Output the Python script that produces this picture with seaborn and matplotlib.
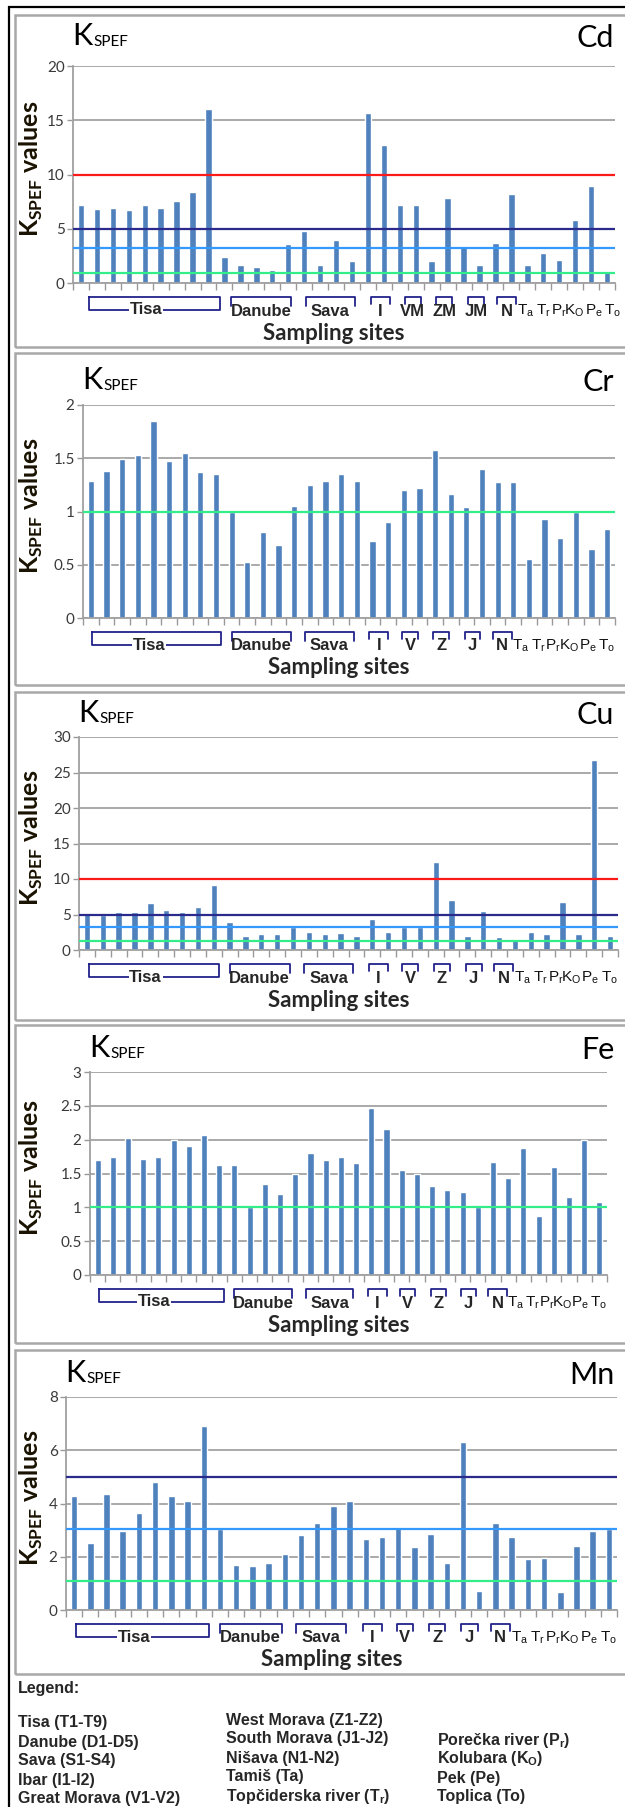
import numpy as np
import pandas as pd
import seaborn as sns
import matplotlib.pyplot as plt
from matplotlib.patches import Rectangle
from matplotlib.transforms import blended_transform_factory

# sampling sites (x categories)
sites = ["T1", "T2", "T3", "T4", "T5", "T6", "T7", "T8", "T9",
         "D1", "D2", "D3", "D4", "D5", "S1", "S2", "S3", "S4",
         "I1", "I2", "V1", "V2", "Z1", "Z2", "J1", "J2", "N1", "N2",
         "Ta", "Tr", "Pr", "Ko", "Pe", "To"]

# K_SPEF values per element
cd = [7.2, 6.8, 6.9, 6.7, 7.2, 6.9, 7.6, 8.4, 16.0, 2.4, 1.7, 1.5, 1.2, 3.6, 4.8, 1.7, 4.0, 2.0,
      15.7, 12.7, 7.2, 7.2, 2.0, 7.8, 3.3, 1.7, 3.7, 8.2, 1.7, 2.8, 2.1, 5.8, 8.9, 1.1]
cr = [1.29, 1.38, 1.49, 1.53, 1.85, 1.47, 1.55, 1.37, 1.35, 1.0, 0.53, 0.81, 0.69, 1.05, 1.25, 1.29, 1.35, 1.29,
      0.72, 0.9, 1.2, 1.22, 1.58, 1.16, 1.04, 1.4, 1.28, 1.28, 0.55, 0.93, 0.75, 1.0, 0.65, 0.84]
cu = [5.2, 5.0, 5.4, 5.4, 6.6, 5.7, 5.3, 6.1, 9.1, 3.9, 2.0, 2.2, 2.2, 3.3, 2.6, 2.2, 2.4, 2.0,
      4.3, 2.6, 3.2, 3.2, 12.4, 7.0, 2.0, 5.5, 1.8, 1.6, 2.6, 2.2, 6.8, 2.2, 26.8, 2.0]
fe = [1.70, 1.75, 2.03, 1.72, 1.75, 2.0, 1.91, 2.07, 1.63, 1.63, 1.0, 1.34, 1.2, 1.49, 1.81, 1.70, 1.75, 1.65,
      2.47, 2.16, 1.55, 1.50, 1.31, 1.26, 1.22, 1.0, 1.67, 1.43, 1.88, 0.87, 1.6, 1.15, 2.0, 1.08]
mn = [4.3, 2.5, 4.35, 2.95, 3.65, 4.8, 4.3, 4.1, 6.9, 3.05, 1.7, 1.65, 1.75, 2.1, 2.8, 3.25, 3.9, 4.1,
      2.65, 2.75, 3.1, 2.35, 2.85, 1.75, 6.3, 0.72, 3.25, 2.75, 1.9, 1.95, 0.68, 2.4, 2.95, 3.05]

# threshold lines per element
cd_lines = [10, 5, 3.2, 0.9]
cr_lines = [1]
cu_lines = [10, 5, 3.3, 1.3]
fe_lines = [1]
mn_lines = [5, 3.05, 1.1]

groups = ["Tisa", "Danube", "Sava", "I", "V", "Z", "J", "N"]
groups_cd = ["Tisa", "Danube", "Sava", "I", "VM", "ZM", "JM", "N"]
singles = [r"T$_\mathrm{a}$", r"T$_\mathrm{r}$", r"P$_\mathrm{r}$", r"K$_\mathrm{O}$", r"P$_\mathrm{e}$", r"T$_\mathrm{o}$"]

legend_col1 = ["Tisa (T1-T9)", "Danube (D1-D5)", "Sava (S1-S4)", "Ibar (I1-I2)", "Great Morava (V1-V2)"]
legend_col2 = ["West Morava (Z1-Z2)", "South Morava (J1-J2)", "Nišava (N1-N2)", "Tamiš (Ta)",
               r"Topčiderska river (T$_\mathbf{r}$)"]
legend_col3 = [r"Porečka river (P$_\mathbf{r}$)", r"Kolubara (K$_\mathbf{O}$)", "Pek (Pe)", "Toplica (To)"]

sns.set_style("white")
plt.rcParams["font.family"] = ["Lato", "DejaVu Sans"]
plt.rcParams["mathtext.fontset"] = "custom"
plt.rcParams["mathtext.rm"] = "Liberation Sans"
plt.rcParams["mathtext.bf"] = "Liberation Sans:bold"
plt.rcParams["mathtext.sf"] = "Lato:bold"

W, H = 625, 1807
BAR = "#4f81bd"
NAVY = "#22228a"


def fx(x):
    return x / W


def fy(y):
    return 1 - y / H


def ref_color(v):
    if v >= 10:
        return "#ff1a1a"
    if v >= 5:
        return "#2a2a8c"
    if v > 2:
        return "#3399ff"
    return "#33ee88"


# name, values, lines, panel top/bottom, axis left/right, axis top/zero, ymax, step, title y, group labels, shift
panels = [
    ("Cd", cd, cd_lines, 15, 347, 73, 615, 66, 283, 20, 5, 36, groups_cd, 0.4),
    ("Cr", cr, cr_lines, 353, 685, 83, 615, 405, 618, 2, 0.5, 380, groups, 0.0),
    ("Cu", cu, cu_lines, 692, 1020, 79, 618, 737, 950, 30, 5, 713, groups, 0.0),
    ("Fe", fe, fe_lines, 1025, 1343, 90, 607, 1072, 1275, 3, 0.5, 1048, groups, 0.0),
    ("Mn", mn, mn_lines, 1350, 1674, 66, 617, 1397, 1610, 8, 2, 1373, groups, 0.0),
]

group_lo = [0.1, 9.0, 13.7, 17.8, 19.9, 21.9, 23.9, 25.7]
group_hi = [8.3, 12.8, 16.8, 19.0, 20.9, 22.9, 24.9, 26.9]
single_x = [27.5, 28.6, 29.55, 30.55, 31.75, 32.95]

fig = plt.figure(figsize=(W / 100, H / 100), dpi=100)

# outer frame
fig.add_artist(Rectangle((fx(9), fy(1830)), fx(700), (1830 - 7) / H, transform=fig.transFigure,
                         fill=False, edgecolor="black", lw=1.6))

for (name, vals, lines, ptop, pbot, axl, axr, axt, axz, ymax, step, ty, glabels, shift) in panels:
    fig.add_artist(Rectangle((fx(15), fy(pbot)), fx(700), (pbot - ptop) / H, transform=fig.transFigure,
                             fill=False, edgecolor="#a8a8a8", lw=1.8))
    ax = fig.add_axes([fx(axl), fy(axz), fx(axr) - fx(axl), (axz - axt) / H])
    df = pd.DataFrame({"site": sites, "value": vals})
    sns.barplot(data=df, x="site", y="value", color=BAR, width=0.4, saturation=1,
                errorbar=None, ax=ax, zorder=2)
    ax.set_xlim(-0.5, 33.5)
    ax.set_ylim(0, ymax)
    ax.set_xlabel("")
    ax.set_ylabel("")
    ax.set_yticks(np.arange(0, ymax + step / 2, step))
    ax.set_yticklabels([f"{t:g}" for t in np.arange(0, ymax + step / 2, step)])
    ax.set_xticks(np.arange(-0.5, 34, 1))
    ax.set_xticklabels([])
    ax.tick_params(axis="x", length=5, width=1, color="#999999", direction="out", bottom=True)
    ax.tick_params(axis="y", length=4, width=1, color="#999999", direction="out", left=True,
                   labelsize=11, labelcolor="#3a3a3a", pad=2)
    ax.yaxis.grid(True, color="#a3a3a3", lw=1.3)
    ax.xaxis.grid(False)
    ax.set_axisbelow(True)
    for s in ["top", "right"]:
        ax.spines[s].set_visible(False)
    for s in ["left", "bottom"]:
        ax.spines[s].set_color("#a0a0a0")
        ax.spines[s].set_linewidth(1.3)
    for v in lines:
        ax.axhline(v, color=ref_color(v), lw=1.6, zorder=4)

    # titles
    fig.text(fx(axl - 1), fy(ty), "K", fontsize=22, va="center", ha="left", color="black")
    fig.text(fx(axl + 20), fy(ty + 6), "SPEF", fontsize=11, va="center", ha="left", color="black")
    fig.text(fx(614), fy(ty + 2), name, fontsize=22, va="center", ha="right", color="black")
    fig.text(fx(31), fy((axt + axz) / 2 - 6), r"K$_\mathsf{SPEF}$ values", fontsize=18, fontweight="bold",
             rotation=90, va="center", ha="center", color="#1a1200")

    # group brackets under the axis
    blend = blended_transform_factory(ax.transData, fig.transFigure)
    btop = axz + 14
    for k, lab in enumerate(glabels):
        lo, hi = group_lo[k] + shift, group_hi[k] + shift
        mid = (lo + hi) / 2
        if lab == "Tisa":
            bb = btop + 13
            ax.plot([lo, hi, hi, lo, lo], [fy(btop), fy(btop), fy(bb), fy(bb), fy(btop)],
                    transform=blend, color=NAVY, lw=1.3, clip_on=False)
            ax.text(mid - 0.5, fy(bb), lab, transform=blend, ha="center", va="center",
                    fontsize=12, fontweight="bold", family="Liberation Sans",
                    bbox=dict(facecolor="white", edgecolor="none", pad=0.5))
        else:
            leg = 9 if k < 3 else 7
            ax.plot([lo, lo, hi, hi], [fy(btop + leg), fy(btop), fy(btop), fy(btop + leg)],
                    transform=blend, color=NAVY, lw=1.3, clip_on=False)
            ax.text(mid, fy(btop + 14), lab, transform=blend, ha="center", va="center",
                    fontsize=12, fontweight="bold", family="Liberation Sans")
    for k, lab in enumerate(singles):
        ax.text(single_x[k] + shift, fy(btop + 14), lab, transform=blend, ha="center", va="center",
                fontsize=11, family="Liberation Sans", color="#111111")
    fig.text(fx((axl + axr) / 2 - 10), fy(axz + 50), "Sampling sites", fontsize=16, fontweight="bold",
             ha="center", va="center")

# legend block
fig.text(fx(18), fy(1688), "Legend:", fontsize=11.5, fontweight="bold", family="Liberation Sans",
         va="center", ha="left")
for k, t in enumerate(legend_col1):
    fig.text(fx(18), fy(1723 + 19 * k), t, fontsize=11.5, fontweight="bold", family="Liberation Sans",
             va="center", ha="left")
for k, t in enumerate(legend_col2):
    fig.text(fx(226), fy(1720 + 19 * k), t, fontsize=11.5, fontweight="bold", family="Liberation Sans",
             va="center", ha="left")
for k, t in enumerate(legend_col3):
    fig.text(fx(437), fy(1740 + 19 * k), t, fontsize=11.5, fontweight="bold", family="Liberation Sans",
             va="center", ha="left")

fig.savefig("out.png", dpi=100)
